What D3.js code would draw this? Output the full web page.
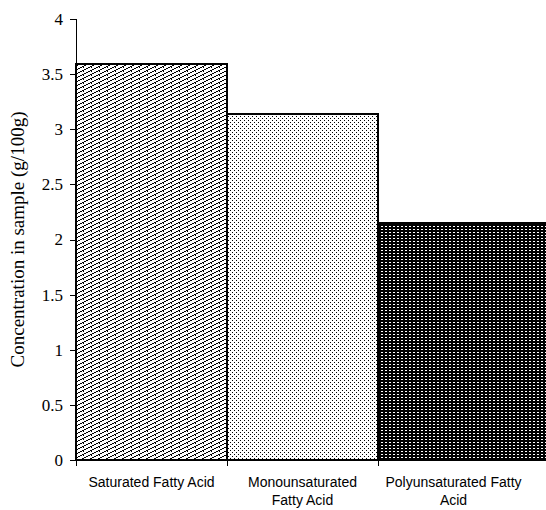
<!DOCTYPE html>
<html lang="en">
<head>
    <meta charset="UTF-8">
    <title>Fatty acid concentration</title>
    <script src="https://d3js.org/d3.v7.min.js"></script>
    <style>
        html, body { margin: 0; padding: 0; background: #fff; overflow: hidden; }
        .tick text { font-family: "Liberation Serif", "Times New Roman", serif; font-size: 17px; fill: #000; }
        .cat { font-family: "Liberation Sans", Arial, sans-serif; font-size: 14px; fill: #000; }
        .ylabel { font-family: "Liberation Serif", "Times New Roman", serif; font-size: 19px; fill: #000; }
    </style>
</head>
<body>
    <svg id="chart" width="546" height="510"></svg>

    <script>
        const categories = ['Saturated Fatty Acid', 'Monounsaturated Fatty Acid', 'Polyunsaturated Fatty Acid'];
        const labelLines = [['Saturated Fatty Acid'], ['Monounsaturated', 'Fatty Acid'], ['Polyunsaturated Fatty', 'Acid']];
        const values = [3.59, 3.14, 2.15];
        const patterns = ['zigzag', 'dots', 'darkdash'];
        const yTicks = [0, 0.5, 1, 1.5, 2, 2.5, 3, 3.5, 4];

        const width = 546, height = 510;
        const margin = { top: 19, right: 17, bottom: 50, left: 76 };

        const svg = d3.select('#chart');
        const defs = svg.append('defs');

        // zigzag diagonal hatch (first bar)
        const p1 = defs.append('pattern').attr('id', 'zigzag')
            .attr('patternUnits', 'userSpaceOnUse').attr('width', 8).attr('height', 4);
        p1.append('rect').attr('width', 8).attr('height', 4).attr('fill', '#fff');
        [[0, 3], [2, 2], [4, 1], [6, 0]].forEach(p => {
            p1.append('rect').attr('x', p[0]).attr('y', p[1]).attr('width', 2).attr('height', 1).attr('fill', '#000');
        });
        p1.append('rect').attr('x', 3).attr('y', 3).attr('width', 1).attr('height', 1).attr('fill', '#000');

        // sparse dots (second bar)
        const p2 = defs.append('pattern').attr('id', 'dots')
            .attr('patternUnits', 'userSpaceOnUse').attr('width', 4).attr('height', 4);
        p2.append('rect').attr('width', 4).attr('height', 4).attr('fill', '#fff');
        p2.append('rect').attr('x', 0).attr('y', 0).attr('width', 1).attr('height', 1).attr('fill', '#000');
        p2.append('rect').attr('x', 2).attr('y', 2).attr('width', 1).attr('height', 1).attr('fill', '#000');

        // black with white dashes (third bar)
        const p3 = defs.append('pattern').attr('id', 'darkdash')
            .attr('patternUnits', 'userSpaceOnUse').attr('width', 4).attr('height', 3);
        p3.append('rect').attr('width', 4).attr('height', 3).attr('fill', '#000');
        p3.append('rect').attr('x', 1).attr('y', 1).attr('width', 2).attr('height', 1).attr('fill', '#fff');

        const x = d3.scaleBand()
            .domain(categories)
            .range([margin.left, width - margin.right])
            .padding(0);

        const y = d3.scaleLinear()
            .domain([0, 4])
            .range([height - margin.bottom, margin.top]);

        // bars (the last one runs off the right edge, as in the picture)
        svg.selectAll('.bar')
            .data(categories)
            .enter().append('rect')
            .attr('class', 'bar')
            .attr('x', d => x(d))
            .attr('y', (d, i) => y(values[i]))
            .attr('width', (d, i) => i === categories.length - 1 ? width + 20 - x(d) : x.bandwidth())
            .attr('height', (d, i) => y(0) - y(values[i]))
            .attr('fill', (d, i) => 'url(#' + patterns[i] + ')')
            .attr('stroke', '#000')
            .attr('stroke-width', 2)
            .attr('shape-rendering', 'crispEdges');

        // y axis
        const yAxis = svg.append('g')
            .attr('transform', 'translate(' + margin.left + ',0)')
            .call(d3.axisLeft(y).tickValues(yTicks).tickFormat(d3.format('')).tickSizeOuter(0).tickSize(6).tickPadding(7));
        yAxis.selectAll('line, path').attr('stroke', '#000').attr('shape-rendering', 'crispEdges');

        // x axis: ticks at band boundaries
        const xAxis = svg.append('g')
            .attr('transform', 'translate(0,' + y(0) + ')');
        xAxis.append('line')
            .attr('x1', margin.left).attr('x2', width)
            .attr('stroke', '#000').attr('stroke-width', 2);
        xAxis.selectAll('.btick')
            .data(categories)
            .enter().append('line')
            .attr('x1', d => x(d)).attr('x2', d => x(d))
            .attr('y1', 0).attr('y2', 6)
            .attr('stroke', '#000')
            .attr('shape-rendering', 'crispEdges');

        // category labels
        xAxis.selectAll('.cat')
            .data(categories)
            .enter().append('text')
            .attr('class', 'cat')
            .attr('text-anchor', 'middle')
            .attr('x', d => x(d) + x.bandwidth() / 2)
            .attr('y', 27)
            .each(function (d, i) {
                labelLines[i].forEach((line, j) => {
                    d3.select(this).append('tspan')
                        .attr('x', x(d) + x.bandwidth() / 2)
                        .attr('dy', j === 0 ? 0 : 18)
                        .text(line);
                });
            });

        // y axis title
        svg.append('text')
            .attr('class', 'ylabel')
            .attr('text-anchor', 'middle')
            .attr('transform', 'translate(24,' + ((y(0) + y(4)) / 2) + ') rotate(-90)')
            .text('Concentration in sample  (g/100g)');
    </script>
</body>
</html>
